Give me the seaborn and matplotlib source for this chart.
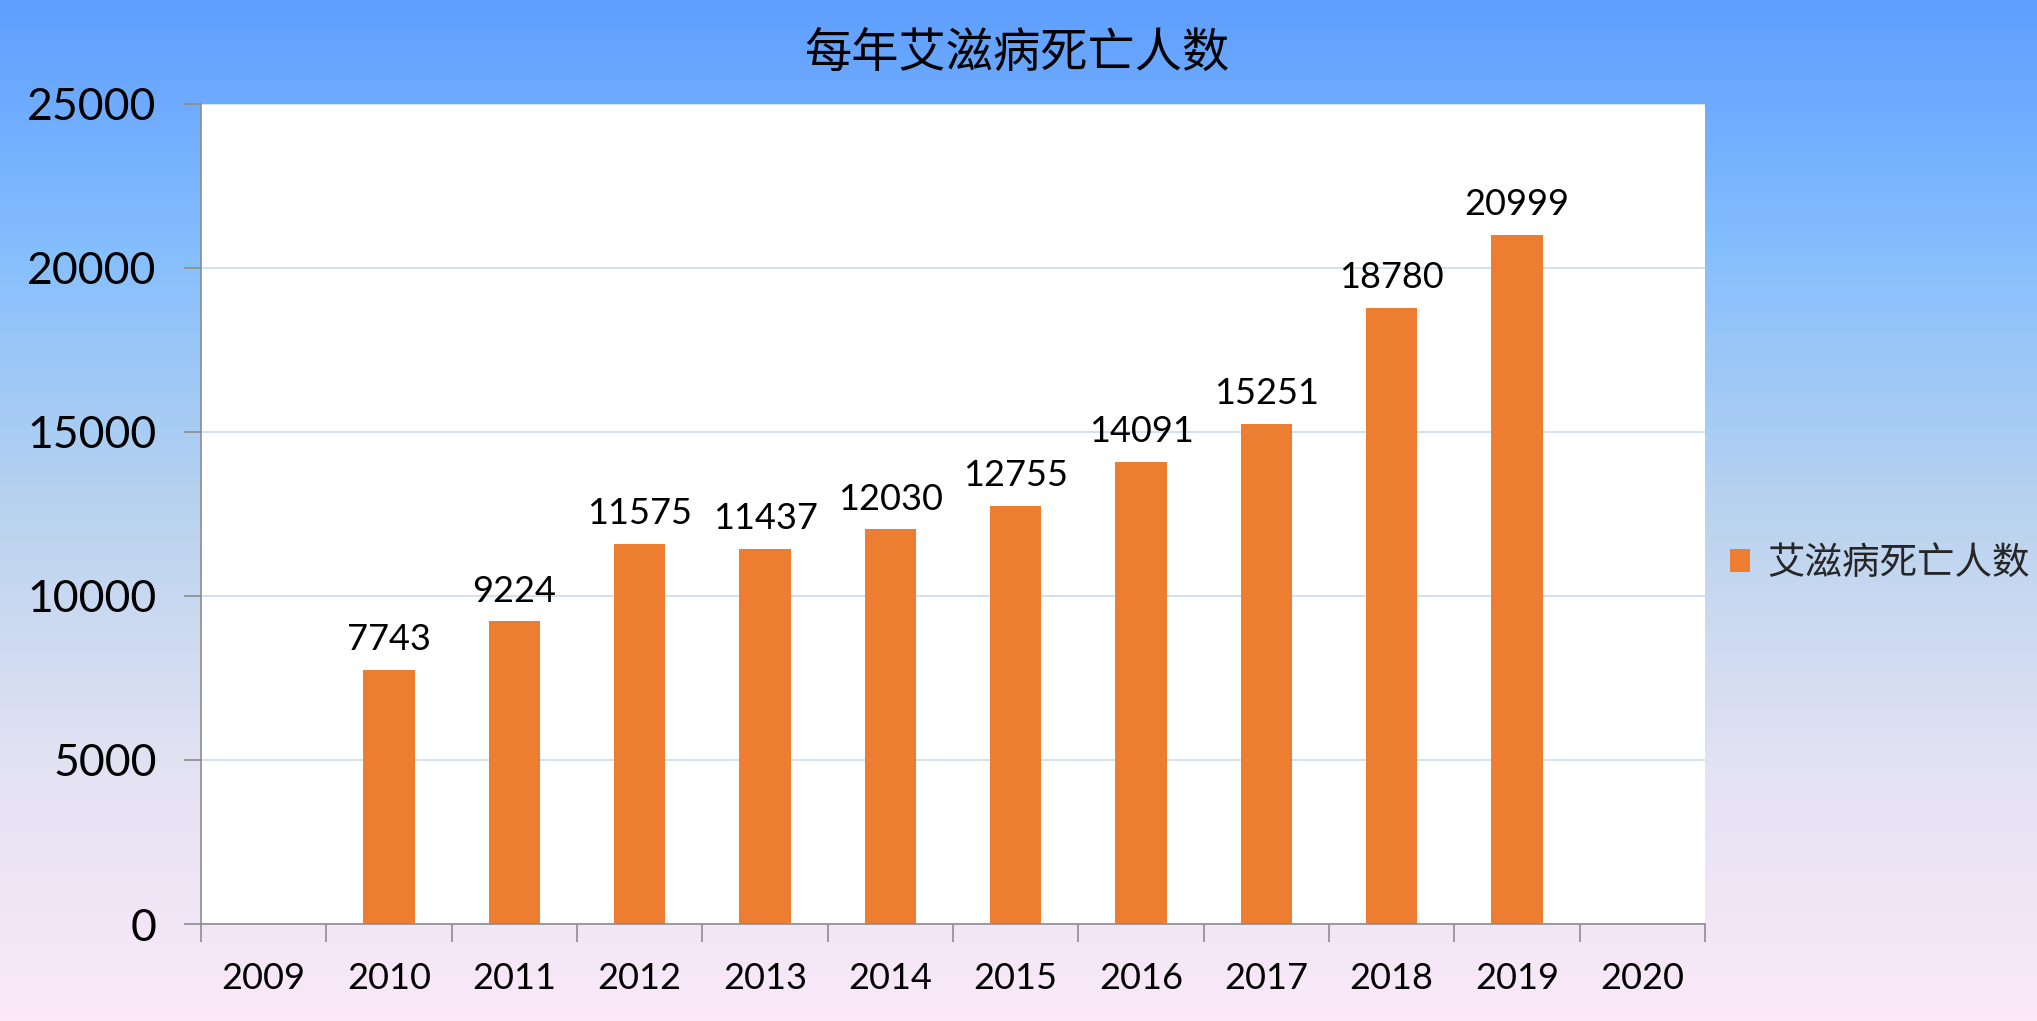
import numpy as np
import pandas as pd
import seaborn as sns
import matplotlib.pyplot as plt
from matplotlib.colors import LinearSegmentedColormap

# 数据
years = [str(y) for y in range(2009, 2021)]
data_years = ['2010', '2011', '2012', '2013', '2014', '2015', '2016', '2017', '2018', '2019']
deaths = [7743, 9224, 11575, 11437, 12030, 12755, 14091, 15251, 18780, 20999]

series_name = '艾滋病死亡人数'
title = '每年艾滋病死亡人数'

df = pd.DataFrame({'year': data_years, 'deaths': deaths, 'series': series_name})

sns.set_theme(style='white')
plt.rcParams['font.family'] = ['Lato', 'Noto Sans CJK SC', 'DejaVu Sans']

fig = plt.figure(figsize=(20.37, 10.21), dpi=100)

# 背景渐变
bg = fig.add_axes([0, 0, 1, 1], zorder=-10)
grad = LinearSegmentedColormap.from_list(
    'bg', ['#5E9EFF', '#86BFFD', '#B9D3EF', '#E3E2F3', '#FBE9F8'])
bg.imshow(np.linspace(0, 1, 256).reshape(-1, 1), aspect='auto', cmap=grad,
          extent=[0, 1, 0, 1], origin='upper')
bg.set_axis_off()

ax = fig.add_axes([201 / 2037, 97 / 1021, (1705 - 201) / 2037, (924 - 104) / 1021])
ax.set_facecolor('white')

sns.barplot(data=df, x='year', y='deaths', hue='series', order=years,
            palette=['#ED7D31'], width=0.41, ax=ax, errorbar=None, saturation=1,
            linewidth=0)

ax.bar_label(ax.containers[0], labels=[str(v) for v in deaths], padding=10,
             fontsize=26, color='black')

ax.set_ylim(0, 25000)
ax.set_yticks(range(0, 25001, 5000))
ax.set_xlim(-0.5, len(years) - 0.5)
ax.set_xlabel('')
ax.set_ylabel('')

ax.yaxis.grid(True, color='#C9DCF2', linewidth=1.2)
ax.set_axisbelow(True)
for s in ['top', 'right']:
    ax.spines[s].set_visible(False)
for s in ['left', 'bottom']:
    ax.spines[s].set_color('#8C8C8C')
    ax.spines[s].set_linewidth(1.2)

ax.tick_params(axis='y', labelsize=32, length=12, width=1.2, color='#8C8C8C',
               left=True, pad=20, labelcolor='black')
# x 轴刻度在类别边界
ax.set_xticks(np.arange(len(years)), labels=years)
ax.set_xticks(np.arange(-0.5, len(years)), minor=True)
ax.tick_params(axis='x', which='major', labelsize=26, length=0, pad=27,
               labelcolor='black')
ax.tick_params(axis='x', which='minor', length=13, width=1.2, color='#8C8C8C',
               bottom=True)

ax.legend(loc='center left', bbox_to_anchor=(0.994, 0.44), frameon=False,
          handlelength=0.55, handleheight=0.55, handletextpad=0.45,
          prop={'family': ['Noto Sans CJK SC'], 'size': 27})

fig.text(0.499, 0.948, title, ha='center', va='center', fontsize=34,
         family=['Noto Sans CJK SC'], color='black')

fig.savefig('out.png', dpi=100)
